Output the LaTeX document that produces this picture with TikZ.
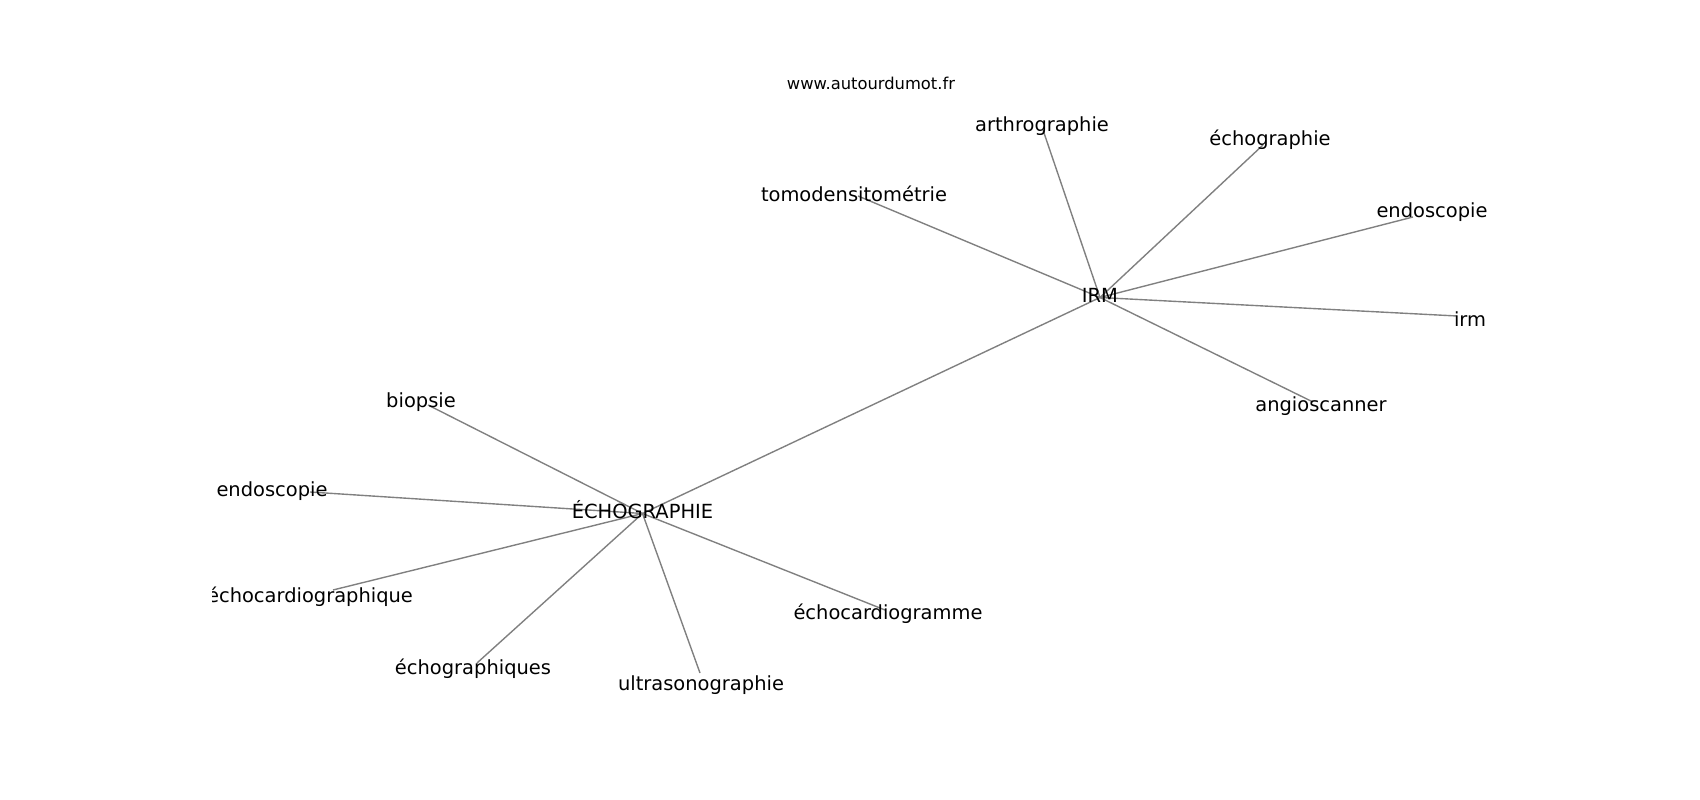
\documentclass[tikz,border=0pt]{standalone}
\usepackage{fontspec}
\setmainfont{DejaVu Sans}
\pgfdeclarelayer{background}
\pgfsetlayers{background,main}
\begin{document}
\begin{tikzpicture}[x=0.01in,y=-0.01in,
  lbl/.style={inner sep=0pt, font=\fontsize{14.05}{16}\selectfont, text height=10.7pt, text depth=3pt},
  wm/.style={inner sep=0pt, font=\fontsize{11.8}{14}\selectfont, text height=9pt, text depth=2.5pt},
  edge/.style={draw=gray, line width=1pt}]
\useasboundingbox (0,0) rectangle (1700,800);

\node[wm] (site) at (871,85) {www.autourdumot.fr};

\begin{scope}
\clip (212.5,96) rectangle (1530,712);
% hubs
\node[lbl] (echo) at (642.5,513.5) {ÉCHOGRAPHIE};
\node[lbl] (irm) at (1100,297.5) {IRM};
% leaves of ÉCHOGRAPHIE
\node[lbl] (biopsie) at (421,402.5) {biopsie};
\node[lbl] (endoL) at (272,491.5) {endoscopie};
\node[lbl] (ecg) at (310,597.5) {échocardiographique};
\node[lbl] (echos) at (473,669.5) {échographiques};
\node[lbl] (ultra) at (701,685.5) {ultrasonographie};
\node[lbl] (ecgm) at (888,614) {échocardiogramme};
% leaves of IRM
\node[lbl] (arthro) at (1042,126) {arthrographie};
\node[lbl] (tomo) at (854,196.5) {tomodensitométrie};
\node[lbl] (echog) at (1270,140.5) {échographie};
\node[lbl] (endoR) at (1432,212) {endoscopie};
\node[lbl] (irml) at (1470,321) {irm};
\node[lbl] (angio) at (1321,406.5) {angioscanner};
\end{scope}

% edge end points
\coordinate (e-biopsie) at (428,405);
\coordinate (e-endoL) at (310,492);
\coordinate (e-ecg) at (333,590);
\coordinate (e-echos) at (477,663);
\coordinate (e-ultra) at (700,673);
\coordinate (e-ecgm) at (885,610);
\coordinate (e-arthro) at (1043,130);
\coordinate (e-tomo) at (858,196);
\coordinate (e-echog) at (1263,145);
\coordinate (e-endoR) at (1413,217);
\coordinate (e-irml) at (1457,316);
\coordinate (e-angio) at (1313,402);

\begin{pgfonlayer}{background}
\fill[white] (0,0) rectangle (1700,800);
\draw[edge] (echo.center) -- (irm.center);
\draw[edge] (echo.center) -- (e-biopsie);
\draw[edge] (echo.center) -- (e-endoL);
\draw[edge] (echo.center) -- (e-ecg);
\draw[edge] (echo.center) -- (e-echos);
\draw[edge] (echo.center) -- (e-ultra);
\draw[edge] (echo.center) -- (e-ecgm);
\draw[edge] (irm.center) -- (e-arthro);
\draw[edge] (irm.center) -- (e-tomo);
\draw[edge] (irm.center) -- (e-echog);
\draw[edge] (irm.center) -- (e-endoR);
\draw[edge] (irm.center) -- (e-irml);
\draw[edge] (irm.center) -- (e-angio);
\end{pgfonlayer}
\end{tikzpicture}
\end{document}
